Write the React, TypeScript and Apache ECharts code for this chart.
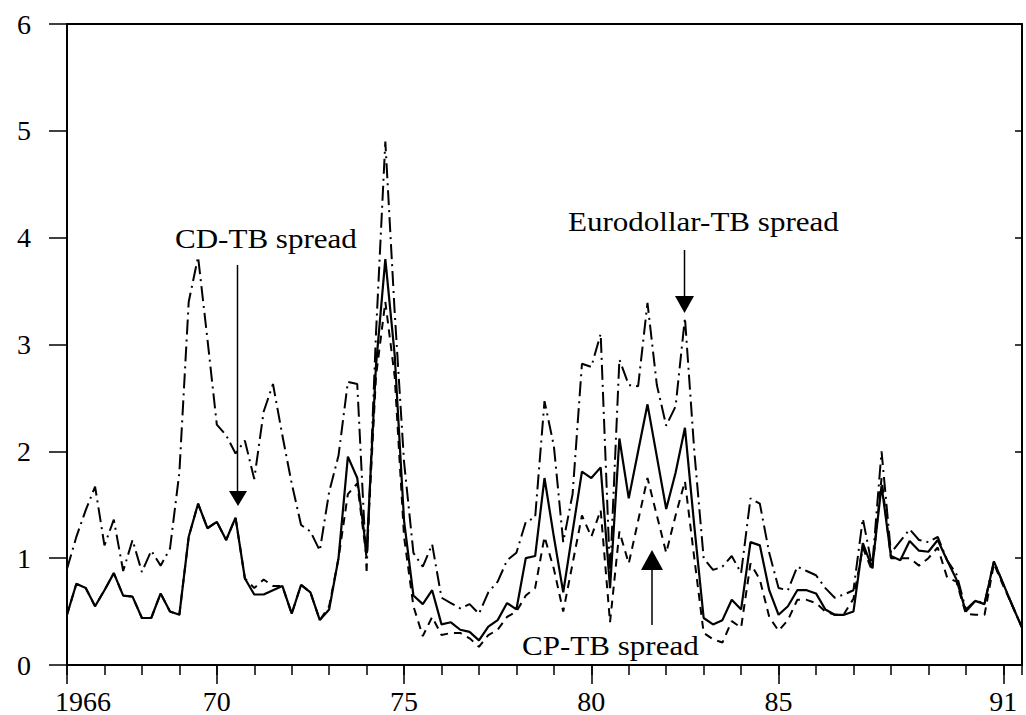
import React, { useEffect, useRef } from 'react';
import * as echarts from 'echarts';

// quarterly observations, 1966Q1 .. 1991Q3
const startYear = 1966;

const cdTb = [
  0.47, 0.76, 0.72, 0.55,
  0.70, 0.86, 0.65, 0.64,
  0.44, 0.44, 0.67, 0.50,
  0.47, 1.20, 1.51, 1.28,
  1.34, 1.17, 1.38, 0.81,
  0.66, 0.66, 0.70, 0.74,
  0.48, 0.75, 0.68, 0.42,
  0.52, 1.00, 1.95, 1.75,
  1.05, 2.80, 3.80, 2.90,
  1.35, 0.65, 0.57, 0.70,
  0.38, 0.40, 0.33, 0.31,
  0.23, 0.36, 0.42, 0.58,
  0.52, 1.00, 1.02, 1.75,
  1.20, 0.68, 1.25, 1.81,
  1.75, 1.85, 0.72, 2.12,
  1.56, 2.00, 2.44, 1.95,
  1.46, 1.80, 2.22, 1.30,
  0.44, 0.38, 0.42, 0.61,
  0.52, 1.15, 1.12, 0.70,
  0.47, 0.55, 0.70, 0.70,
  0.67, 0.52, 0.47, 0.47,
  0.50, 1.14, 0.91, 1.68,
  1.02, 0.98, 1.16, 1.07,
  1.06, 1.17, 0.98, 0.80,
  0.50, 0.60, 0.57, 0.97,
  0.76, 0.55, 0.35,
];

const euroTb = [
  0.90, 1.20, 1.45, 1.67,
  1.12, 1.36, 0.88, 1.17,
  0.87, 1.07, 0.93, 1.09,
  1.80, 3.40, 3.82, 3.05,
  2.25, 2.15, 1.98, 2.10,
  1.74, 2.37, 2.63, 2.15,
  1.70, 1.31, 1.25, 1.07,
  1.62, 1.96, 2.65, 2.63,
  0.88, 3.10, 4.90, 3.30,
  1.90, 1.05, 0.92, 1.13,
  0.63, 0.58, 0.53, 0.57,
  0.48, 0.68, 0.78, 0.98,
  1.05, 1.34, 1.38, 2.47,
  2.05, 1.15, 1.60, 2.82,
  2.79, 3.10, 0.85, 2.86,
  2.62, 2.61, 3.39, 2.62,
  2.24, 2.42, 3.25, 2.00,
  1.00, 0.89, 0.92, 1.02,
  0.86, 1.56, 1.51, 1.05,
  0.72, 0.70, 0.92, 0.88,
  0.84, 0.72, 0.63, 0.66,
  0.70, 1.37, 0.92, 2.00,
  1.05, 1.16, 1.27, 1.17,
  1.15, 1.20, 0.98, 0.85,
  0.52, 0.60, 0.58, 0.97,
  0.76, 0.55, 0.35,
];

const cpTb = [
  0.47, 0.76, 0.72, 0.55,
  0.70, 0.86, 0.65, 0.64,
  0.44, 0.44, 0.67, 0.50,
  0.47, 1.20, 1.51, 1.28,
  1.34, 1.17, 1.38, 0.81,
  0.72, 0.80, 0.74, 0.74,
  0.48, 0.75, 0.68, 0.42,
  0.55, 1.00, 1.60, 1.70,
  1.00, 2.70, 3.40, 2.70,
  1.20, 0.55, 0.27, 0.45,
  0.28, 0.30, 0.30, 0.25,
  0.17, 0.28, 0.33, 0.45,
  0.50, 0.65, 0.72, 1.20,
  0.90, 0.50, 0.95, 1.40,
  1.20, 1.45, 0.40, 1.25,
  0.95, 1.35, 1.75, 1.40,
  1.05, 1.40, 1.72, 1.00,
  0.30, 0.24, 0.21, 0.41,
  0.35, 0.95, 0.80, 0.45,
  0.32, 0.42, 0.61, 0.61,
  0.58, 0.50, 0.47, 0.48,
  0.62, 1.10, 0.88, 1.75,
  1.00, 1.00, 1.00, 0.93,
  1.00, 1.10, 0.82, 0.78,
  0.48, 0.47, 0.47, 0.95,
  0.74, 0.55, 0.35,
];

const xMajorTicks = [1966, 1970, 1975, 1980, 1985, 1991];
const xMajorLabels = ['1966', '70', '75', '80', '85', '91'];

const FONT = '"Liberation Serif", "Times New Roman", Times, serif';
const INK = '#000';

function pairs(vals: number[]) {
  return vals.map((v, i) => [startYear + i * 0.25, v]);
}

export default function App() {
  const ref = useRef<HTMLDivElement>(null);

  useEffect(() => {
    if (!ref.current) return;
    const chart = echarts.init(ref.current, undefined, { renderer: 'svg' });
    const axisLine = { show: true, lineStyle: { color: INK, width: 2 } };
    const option: any = {
      animation: false,
      backgroundColor: '#fff',
      grid: { left: 67, right: 4, top: 24, bottom: 48, containLabel: false },
      xAxis: [
        {
          type: 'value', min: 1966, max: 1991.5, interval: 1, position: 'bottom',
          axisLine,
          axisTick: { show: true, inside: false, length: 10, lineStyle: { color: INK, width: 1.5 } },
          axisLabel: { show: false },
          splitLine: { show: false },
        },
        {
          type: 'value', min: 1966, max: 1991.5, interval: 1, position: 'bottom',
          axisLine: { show: false },
          axisTick: { show: true, inside: false, length: 19, customValues: xMajorTicks, lineStyle: { color: INK, width: 1.5 } },
          axisLabel: {
            show: true,
            customValues: xMajorTicks,
            margin: 22,
            color: INK,
            fontFamily: FONT,
            fontSize: 28,
            formatter: (v: number) => {
              const idx = xMajorTicks.indexOf(Math.round(v));
              if (idx < 0) return '';
              return idx === 0 ? '{first|' + xMajorLabels[idx] + '}' : xMajorLabels[idx];
            },
            rich: {
              first: { fontFamily: FONT, fontSize: 28, color: INK, padding: [0, 0, 0, 32] },
            },
          },
          splitLine: { show: false },
        },
        {
          type: 'value', min: 1966, max: 1991.5, position: 'top',
          axisLine,
          axisTick: { show: false },
          axisLabel: { show: false },
          splitLine: { show: false },
        },
      ],
      yAxis: [
        {
          type: 'value', min: 0, max: 6, interval: 1, position: 'left',
          axisLine,
          axisTick: { show: true, inside: false, length: 18, lineStyle: { color: INK, width: 1.5 } },
          axisLabel: { show: true, margin: 36, color: INK, fontFamily: FONT, fontSize: 28 },
          splitLine: { show: false },
        },
        {
          type: 'value', min: 0, max: 6, interval: 1, position: 'right',
          axisLine,
          axisTick: { show: true, inside: true, length: 7, lineStyle: { color: INK, width: 1.5 } },
          axisLabel: { show: false },
          splitLine: { show: false },
        },
      ],
      series: [
        {
          name: 'Eurodollar-TB spread', type: 'line', data: pairs(euroTb),
          showSymbol: false, symbol: 'none', z: 2,
          lineStyle: { color: INK, width: 2, type: [15, 5, 2, 5] },
        },
        {
          name: 'CP-TB spread', type: 'line', data: pairs(cpTb),
          showSymbol: false, symbol: 'none', z: 3,
          lineStyle: { color: INK, width: 2, type: [8, 6] },
        },
        {
          name: 'CD-TB spread', type: 'line', data: pairs(cdTb),
          showSymbol: false, symbol: 'none', z: 4,
          lineStyle: { color: INK, width: 2.2 },
        },
      ],
      graphic: [
        {
          type: 'text', x: 175, y: 239, scaleX: 1.15, z: 10,
          style: { text: 'CD-TB spread', fontFamily: FONT, fontSize: 27, fill: INK, align: 'left', verticalAlign: 'middle' },
        },
        {
          type: 'text', x: 568, y: 222, scaleX: 1.15, z: 10,
          style: { text: 'Eurodollar-TB spread', fontFamily: FONT, fontSize: 27, fill: INK, align: 'left', verticalAlign: 'middle' },
        },
        {
          type: 'text', x: 522, y: 646, scaleX: 1.15, z: 10,
          style: { text: 'CP-TB spread', fontFamily: FONT, fontSize: 27, fill: INK, align: 'left', verticalAlign: 'middle' },
        },
        { type: 'line', z: 10, shape: { x1: 237.5, y1: 265, x2: 237.5, y2: 493 }, style: { stroke: INK, lineWidth: 1.5 } },
        { type: 'polygon', z: 10, shape: { points: [[229, 491], [247, 491], [238, 506]] }, style: { fill: INK } },
        { type: 'line', z: 10, shape: { x1: 684.5, y1: 250, x2: 684.5, y2: 298 }, style: { stroke: INK, lineWidth: 1.5 } },
        { type: 'polygon', z: 10, shape: { points: [[675, 296], [694, 296], [684.5, 313]] }, style: { fill: INK } },
        { type: 'polygon', z: 10, shape: { points: [[641, 570], [663, 570], [652, 550]] }, style: { fill: INK } },
        { type: 'line', z: 10, shape: { x1: 652, y1: 569, x2: 652, y2: 625 }, style: { stroke: INK, lineWidth: 1.5 } },
      ],
    };
    chart.setOption(option);
    return () => chart.dispose();
  }, []);

  return (
    <div
      ref={ref}
      style={{ position: 'absolute', left: 0, top: 0, width: 1026, height: 715, background: '#fff' }}
    />
  );
}
